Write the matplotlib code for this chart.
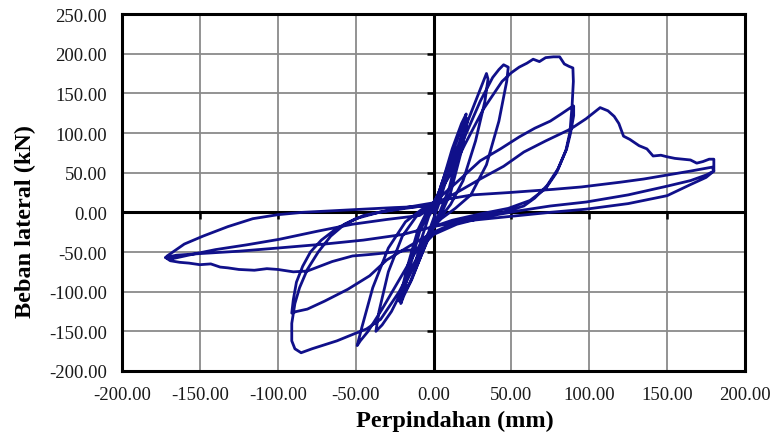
import numpy as np
import matplotlib
matplotlib.use("Agg")
import matplotlib.pyplot as plt
from matplotlib.markers import TICKLEFT, TICKDOWN

# Hysteresis curve: displacement (mm) / lateral load (kN)
# one pair of lists per loading cycle, in the order they were applied

# cycle 1, about +/-10 mm
c1_d = [0, 5, 10, 12, 8, 3, 0, -5, -10, -12, -8, -3, 0]
c1_f = [0, 35, 62, 72, 40, 8, -8, -35, -58, -68, -35, -5, 5]

# cycle 2, about +/-20 mm, twice
c2_d = [0, 6, 12, 18, 21, 17, 10, 4, 0, -7, -14, -19, -21, -16, -9, -3,
        2, 8, 14, 19, 22, 18, 11, 5, 0, -8, -15, -20, -22, -17, -10, -4, 0]
c2_f = [5, 40, 80, 112, 124, 85, 30, 0, -15, -50, -85, -105, -115, -75, -25, 0,
        10, 45, 85, 110, 118, 78, 25, -2, -18, -55, -88, -105, -112, -70, -22, 2, 10]

# cycle 3, about +/-35 mm
c3_d = [0, 10, 20, 28, 32, 34, 35, 33, 27, 19, 11, 4, 0, -8, -18, -27, -33, -37,
        -35, -29, -20, -11, -3, 0]
c3_f = [10, 55, 105, 145, 165, 175, 168, 140, 90, 40, 10, -8, -20, -50, -90, -125, -142, -150,
        -125, -75, -30, -5, 8, 12]

# cycle 4, about +/-50 mm
c4_d = [0, 10, 20, 30, 38, 42, 45, 48, 47, 42, 34, 24, 14, 5, 0, -10, -22, -33, -42, -47, -49,
        -46, -39, -29, -18, -8, 0]
c4_f = [12, 48, 95, 140, 170, 180, 186, 183, 165, 115, 60, 22, 5, -8, -18, -45, -85, -122, -150, -162, -168,
        -145, -95, -45, -12, 3, 12]

# cycle 5, about +/-90 mm (first)
c5_d = [0, 10, 20, 32, 44, 50, 55, 60, 64, 68, 72, 77, 81, 84, 87, 89.5, 89.8, 89, 87.6, 85, 79, 72,
        62, 48, 30, 12, 0, -10, -22, -34, -43, -52, -62, -70, -78, -85, -89, -91, -91, -89, -86, -81,
        -74, -66, -57, -45, -30, -12, 0]
c5_f = [12, 45, 85, 130, 165, 176, 183, 188, 193, 190, 195, 196, 196, 187, 184, 182, 165, 135, 101, 78, 50, 30,
        15, 5, -2, -10, -18, -55, -100, -135, -147, -154, -162, -167, -172, -177, -172, -162, -140, -115, -95, -72,
        -50, -30, -15, -4, 2, 8, 12]

# cycle 6, about +/-90 mm (second)
c6_d = [0, 15, 30, 43, 55, 65, 75, 82, 88, 90, 90, 88, 85.5, 80, 73, 65, 58, 45, 30, 15, 0, -15, -30,
        -41, -55, -70, -81, -88, -91, -90, -88, -84, -79, -72, -62, -50, -35, -18, 0]
c6_f = [12, 38, 65, 80, 95, 106, 115, 124, 132, 134, 122, 100, 80, 55, 34, 18, 8, 0, -5, -12, -25, -42, -60,
        -80, -97, -112, -122, -125, -127, -110, -88, -68, -50, -35, -20, -8, 0, 5, 10]

# cycle 7, about +/-180 mm (first)
c7_d = [0, 15, 30, 45, 58, 72, 88, 98, 107, 112, 116, 119, 122, 126, 132, 137, 141, 146, 150, 155, 160,
        165, 169, 173, 177, 180, 180, 175, 165, 150, 125, 98, 75, 55, 35, 15, 0, -9, -25, -40, -52, -65,
        -81, -90, -100, -107, -115, -125, -132, -137, -143, -150, -157, -163, -169, -172]
c7_f = [10, 25, 42, 58, 76, 90, 105, 118, 132, 128, 121, 112, 96, 92, 84, 80, 71, 72, 70, 68, 67,
        66, 62, 64, 67, 67, 52, 47, 40, 33, 22, 13, 8, 2, -5, -15, -28, -46, -50, -53, -55, -62,
        -74, -75, -72, -71, -73, -72, -70, -69, -65, -66, -64, -63, -61, -57]

# cycle 8, about +/-180 mm (second)
c8_d = [-172, -169, -155, -140, -120, -99, -75, -52, -30, -9, 0, 10, 25, 49, 63, 77, 95, 120, 135, 150,
        165, 179, 180, 175, 165, 150, 125, 98, 75, 55, 35, 15, 0, -20, -45, -70, -100, -125, -150, -165,
        -172, -171, -160, -148, -132, -116, -100, -84, -65, -45, -25, 0]
c8_f = [-57, -59, -53, -47, -41, -34, -24, -15, -9, -4, 8, 17, 22, 25, 27, 29, 32, 38, 42, 47,
        52, 57, 52, 44, 35, 21, 11, 4, 0, -4, -8, -12, -18, -28, -35, -40, -45, -49, -52, -54,
        -57, -55, -40, -30, -18, -8, -3, 0, 2, 4, 6, 8]

x_ticks = [-200, -150, -100, -50, 0, 50, 100, 150, 200]
y_ticks = [-200, -150, -100, -50, 0, 50, 100, 150, 200, 250]

disp = np.concatenate([c1_d, c2_d, c3_d, c4_d, c5_d, c6_d, c7_d, c8_d])
load = np.concatenate([c1_f, c2_f, c3_f, c4_f, c5_f, c6_f, c7_f, c8_f])

plt.rcParams['font.family'] = ['Liberation Serif', 'DejaVu Serif']

fig = plt.figure(figsize=(7.74, 4.39), dpi=100)
ax = fig.add_axes([122 / 774, 67 / 439, 623 / 774, 357 / 439])

ax.set_xlim(-200, 200)
ax.set_ylim(-200, 250)
ax.set_xticks(x_ticks)
ax.set_yticks(y_ticks)
ax.set_xticklabels([f"{v:.2f}" for v in x_ticks])
ax.set_yticklabels([f"{v:.2f}" for v in y_ticks])
ax.tick_params(length=0, pad=11, labelsize=13.5, colors='#1a1a1a')

ax.grid(True, color='#8a8a8a', linewidth=1.3)
ax.set_axisbelow(True)
for s in ax.spines.values():
    s.set_linewidth(2.2)
    s.set_color('black')

# axes crossing at zero, Excel style, with small outside ticks
ax.axhline(0, color='black', linewidth=2.2, zorder=2)
ax.axvline(0, color='black', linewidth=2.2, zorder=2)
ax.plot(np.zeros(len(y_ticks)), y_ticks, linestyle='none', marker=TICKLEFT,
        markersize=5, markeredgewidth=1.8, color='black', zorder=2, clip_on=False)
ax.plot(x_ticks, np.zeros(len(x_ticks)), linestyle='none', marker=TICKDOWN,
        markersize=5, markeredgewidth=1.8, color='black', zorder=2, clip_on=False)

ax.plot(disp, load, color='#10108a', linewidth=2.0, zorder=3,
        solid_joinstyle='round')

fig.text(455 / 774, 1 - 421 / 439, 'Perpindahan (mm)', ha='center', va='center',
         fontsize=17.5, fontweight='bold')
fig.text(25 / 774, 1 - 221 / 439, 'Beban lateral (kN)', ha='center', va='center',
         rotation=90, fontsize=17.5, fontweight='bold')

fig.savefig('out.png', dpi=100)
